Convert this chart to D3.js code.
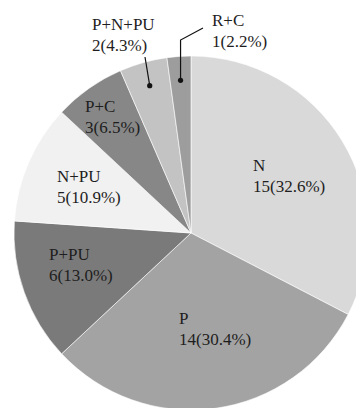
<!DOCTYPE html>
<html>
<head>
<meta charset="utf-8">
<script src="https://cdn.jsdelivr.net/npm/d3@7/dist/d3.min.js"></script>
<style>
  html, body { margin: 0; padding: 0; background: #fff; overflow: hidden; }
  svg { display: block; }
  text.lbl { font-family: "Liberation Serif", "Times New Roman", "DejaVu Serif", serif; }
</style>
</head>
<body>
<script>
// Combination categories and their counts
const categories = ["N", "P", "P+PU", "N+PU", "P+C", "P+N+PU", "R+C"];
const counts = [15, 14, 6, 5, 3, 2, 1];
const percents = ["32.6%", "30.4%", "13.0%", "10.9%", "6.5%", "4.3%", "2.2%"];
const fills = ["#d9d9d9", "#a3a3a3", "#7a7a7a", "#f1f1f1", "#878787", "#c3c3c3", "#9d9d9d"];

const W = 356, H = 408;
const cx = 191, cy = 233, R = 177;

const svg = d3.select("body").append("svg")
  .attr("width", W).attr("height", H);

const pie = d3.pie().sort(null).value(d => d.count);
const data = categories.map((c, i) => ({ name: c, count: counts[i], pct: percents[i], fill: fills[i] }));
const arcs = pie(data);
const arc = d3.arc().innerRadius(0).outerRadius(R);

const g = svg.append("g").attr("transform", `translate(${cx},${cy})`);

g.selectAll("path.slice")
  .data(arcs)
  .join("path")
  .attr("class", "slice")
  .attr("d", arc)
  .attr("fill", d => d.data.fill)
  .attr("stroke", "#fff")
  .attr("stroke-width", 0.6);

// Label anchors (left edge of text block, relative to chart centre)
const labelPos = {
  "N":      [62, -62],
  "P":      [-12, 91],
  "P+PU":   [-142, 27],
  "N+PU":   [-134, -51],
  "P+C":    [-106, -121],
  "P+N+PU": [-99, -203],
  "R+C":    [21, -207]
};

const fontSize = 17, lineGap = 21;
const labels = g.selectAll("text.lbl")
  .data(arcs)
  .join("text")
  .attr("class", "lbl")
  .attr("font-size", fontSize)
  .attr("fill", "#1e1e1e");

labels.append("tspan")
  .attr("x", d => labelPos[d.data.name][0])
  .attr("y", d => labelPos[d.data.name][1])
  .text(d => d.data.name);
labels.append("tspan")
  .attr("x", d => labelPos[d.data.name][0])
  .attr("y", d => labelPos[d.data.name][1] + lineGap)
  .text(d => `${d.data.count}(${d.data.pct})`);

// Leader lines for the two thin slices
const dotArc = d3.arc().innerRadius(0).outerRadius(2 * 153);
const byName = Object.fromEntries(arcs.map(a => [a.data.name, a]));

function leader(name, pts) {
  const [dx, dy] = dotArc.centroid(byName[name]);
  const line = [...pts, [dx, dy]];
  g.append("path")
    .attr("d", d3.line()(line))
    .attr("fill", "none")
    .attr("stroke", "#111")
    .attr("stroke-width", 1.2);
  g.append("circle")
    .attr("cx", dx).attr("cy", dy).attr("r", 2.6)
    .attr("fill", "#111");
}

const dRC = dotArc.centroid(byName["R+C"]);
leader("R+C", [[12, -205], [dRC[0], -193]]);
leader("P+N+PU", [[-46, -176]]);
</script>
</body>
</html>
